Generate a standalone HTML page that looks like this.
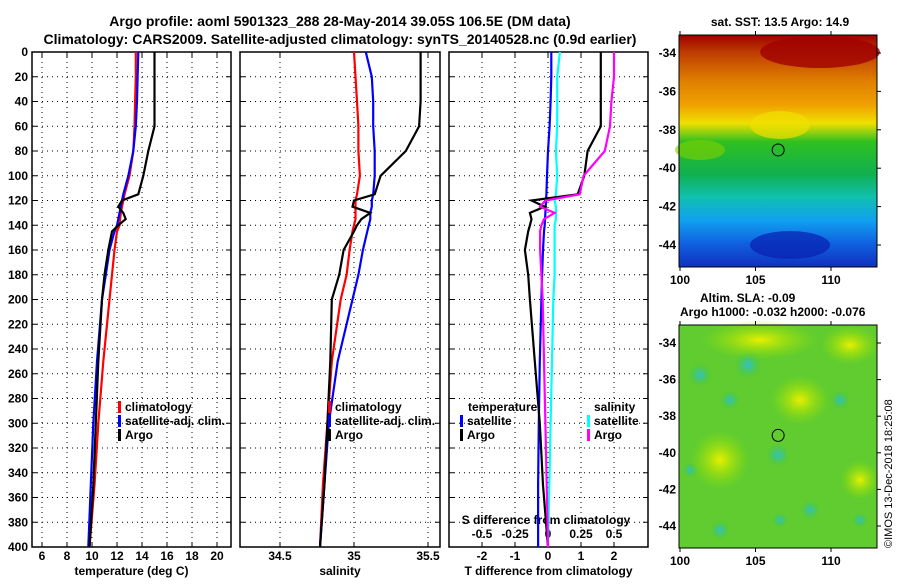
<!DOCTYPE html>
<html><head><meta charset="utf-8"><style>
body{margin:0;background:#fff;width:900px;height:580px;overflow:hidden;font-family:"Liberation Sans",sans-serif}
svg text{font-family:"Liberation Sans",sans-serif;font-weight:bold;font-size:12px;fill:#000}
</style></head><body>
<svg id="chart" width="900" height="580">
<defs>
<linearGradient id="sst" x1="0" y1="0" x2="0" y2="1">
<stop offset="0" stop-color="#a00000"/><stop offset="0.08" stop-color="#c04000"/><stop offset="0.2" stop-color="#e08000"/><stop offset="0.3" stop-color="#f0a000"/><stop offset="0.38" stop-color="#f0e000"/><stop offset="0.46" stop-color="#30c020"/><stop offset="0.6" stop-color="#10b050"/><stop offset="0.7" stop-color="#10c0b0"/><stop offset="0.8" stop-color="#10a0f0"/><stop offset="0.9" stop-color="#1060e0"/><stop offset="1" stop-color="#1030c0"/>
</linearGradient>
<radialGradient id="blob" cx="0.5" cy="0.5" r="0.5"><stop offset="0" stop-color="#30c0d0"/><stop offset="1" stop-color="#40c840" stop-opacity="0"/></radialGradient>
<radialGradient id="yel" cx="0.5" cy="0.5" r="0.5"><stop offset="0" stop-color="#e8f000"/><stop offset="1" stop-color="#90e000" stop-opacity="0"/></radialGradient>
</defs>
<text x="340" y="26" text-anchor="middle" style="font-size:14px">Argo profile: aoml 5901323_288 28-May-2014 39.05S 106.5E (DM data)</text>
<text x="340" y="44" text-anchor="middle" style="font-size:14px">Climatology: CARS2009. Satellite-adjusted climatology: synTS_20140528.nc (0.9d earlier)</text>
<g id="plots"></g>
<g id="maps"></g>
<text transform="translate(892,548) rotate(-90)" style="font-size:11px;font-weight:normal">©IMOS 13-Dec-2018 18:25:08</text>
</svg>
<script>
const depths=[0,20,40,60,80,100,115,120,125,130,135,140,145,160,180,200,250,300,350,400];
const tClim=[13.5,13.5,13.45,13.4,13.3,13.0,12.6,12.5,12.4,12.3,12.25,12.2,12.0,11.8,11.6,11.4,10.9,10.5,10.2,9.8];
const tSat=[13.7,13.65,13.6,13.5,13.3,12.9,12.5,12.4,12.3,12.2,12.1,12.0,11.8,11.4,11.1,10.8,10.4,10.1,9.9,9.7];
const tArgo=[15.0,15.0,15.0,15.0,14.5,14.1,13.7,12.4,12.1,12.5,12.7,12.1,11.6,11.3,11.0,10.8,10.5,10.3,10.1,9.8];
const sClim=[35.0,35.01,35.02,35.03,35.03,35.04,35.02,35.01,35.01,35.01,35.01,35.0,34.99,34.97,34.95,34.91,34.85,34.82,34.79,34.77];
const sSat=[35.08,35.12,35.13,35.13,35.14,35.14,35.13,35.12,35.12,35.11,35.11,35.1,35.09,35.06,35.03,34.99,34.89,34.83,34.8,34.77];
const sArgo=[35.45,35.45,35.45,35.44,35.35,35.18,35.14,35.0,34.99,35.11,35.05,35.02,35.0,34.93,34.9,34.85,34.84,34.82,34.8,34.77];
const dtSat=[0.1,0.1,0.08,0.05,0.0,-0.03,-0.05,-0.06,-0.07,-0.08,-0.09,-0.1,-0.12,-0.15,-0.18,-0.2,-0.25,-0.28,-0.3,-0.3];
const dsSat=[0.09,0.07,0.07,0.07,0.06,0.07,0.06,0.05,0.06,0.06,0.06,0.05,0.05,0.05,0.05,0.04,0.03,0.02,0.01,0.0];
const dtArgo=[1.6,1.6,1.6,1.6,1.2,1.1,0.9,-0.5,-0.1,-0.55,-0.5,-0.55,-0.6,-0.7,-0.6,-0.55,-0.4,-0.25,-0.15,0.0];
const dsArgo=[0.5,0.5,0.48,0.47,0.43,0.27,0.24,-0.02,-0.06,0.05,-0.03,-0.05,-0.06,-0.06,-0.05,-0.04,-0.03,-0.02,-0.01,0.0];
const depthTicks=[0,20,40,60,80,100,120,140,160,180,200,220,240,260,280,300,320,340,360,380,400];
const tTicks=[6,8,10,12,14,16,18,20];
const sTicks=[34.5,35,35.5];
const dtTicks=[-2,-1,0,1,2];
const dsTicks=[-0.5,-0.25,0,0.25,0.5];
const NS='http://www.w3.org/2000/svg';
const g=document.getElementById('plots');
function mk(tag,at,parent){const e=document.createElementNS(NS,tag);for(const k in at)e.setAttribute(k,at[k]);(parent||g).appendChild(e);return e;}
const Y0=52,Y1=547;
const yD=d=>Y0+d*(Y1-Y0)/400;
function panel(x0,x1,sc,ticks,name,xlabel){
  const r=mk('rect',{x:x0,y:Y0,width:x1-x0,height:Y1-Y0,fill:'none',stroke:'#000','stroke-width':1.5});
  
  
  depthTicks.forEach(d=>{if(d>0&&d<400){const l=mk('line',{x1:x0,x2:x1,y1:yD(d),y2:yD(d),stroke:'#000','stroke-dasharray':'1,4'});}
    mk('line',{x1:x0,x2:x0+5,y1:yD(d),y2:yD(d),stroke:'#000'});mk('line',{x1:x1-5,x2:x1,y1:yD(d),y2:yD(d),stroke:'#000'});});
  ticks.forEach(t=>{const x=sc(t);const l=mk('line',{x1:x,x2:x,y1:Y0,y2:Y1,stroke:'#000','stroke-dasharray':'1,4'});
    mk('line',{x1:x,x2:x,y1:Y1-5,y2:Y1,stroke:'#000'});mk('line',{x1:x,x2:x,y1:Y0,y2:Y0+5,stroke:'#000'});});
  if(xlabel){const t=mk('text',{x:(x0+x1)/2,y:575,'text-anchor':'middle'});t.textContent=xlabel;}
}
function line(vals,sc,col,name){
  const p=vals.map((v,i)=>(i?'L':'M')+sc(v).toFixed(1)+','+yD(depths[i]).toFixed(1)).join('');
  const e=mk('path',{d:p,fill:'none',stroke:col,'stroke-width':2.2});
  
  
}
function tickLabels(ticks,sc,y,fmt,name){ticks.forEach(t=>{const e=mk('text',{x:sc(t),y:y,'text-anchor':'middle'});e.textContent=fmt(t);});}
function legend(x,y,items){items.forEach((it,i)=>{mk('rect',{x:x,y:y+i*14-10,width:3,height:12,fill:it[1]});const e=mk('text',{x:x+7,y:y+i*14});e.textContent=it[0];});}
const xT=t=>42+(t-6)*12.5;
panel(32,231,xT,tTicks,'temperature-panel','temperature (deg C)');
depthTicks.forEach(d=>{const e=mk('text',{x:28,y:yD(d)+4,'text-anchor':'end'});e.textContent=d;});
tickLabels(tTicks,xT,560,t=>t,'x-tick-label');
line(tClim,xT,'#f00','temperature-climatology-line');
line(tSat,xT,'#00f','temperature-satellite-line');
line(tArgo,xT,'#000','temperature-argo-line');
legend(118,411,[['climatology','#f00'],['satellite-adj. clim.','#00f'],['Argo','#000']]);
const xS=s=>354+(s-35)*148;
panel(240,440,xS,sTicks,'salinity-panel','salinity');
tickLabels(sTicks,xS,560,t=>t,'x-tick-label');
line(sClim,xS,'#f00','salinity-climatology-line');
line(sSat,xS,'#00f','salinity-satellite-line');
line(sArgo,xS,'#000','salinity-argo-line');
legend(328,411,[['climatology','#f00'],['satellite-adj. clim.','#00f'],['Argo','#000']]);
const xDT=t=>548+t*33, xDS=s=>548+s*132;
panel(449,648,xDT,dtTicks,'difference-panel','T difference from climatology');
tickLabels(dtTicks,xDT,560,t=>t,'t-diff-tick-label');
tickLabels(dsTicks,xDS,538,t=>t,'s-diff-tick-label');
const st=mk('text',{x:546,y:524,'text-anchor':'middle'});st.textContent='S difference from climatology';
line(dtSat,xDT,'#00f','t-diff-satellite-line');
line(dsSat,xDS,'#0ff','s-diff-satellite-line');
line(dtArgo,xDT,'#000','t-diff-argo-line');
line(dsArgo,xDS,'#f0f','s-diff-argo-line');
const th=mk('text',{x:468,y:411});th.textContent='temperature';
const sh=mk('text',{x:594,y:411});sh.textContent='salinity';
legend(460,425,[['satellite','#00f'],['Argo','#000']]);
legend(587,425,[['satellite','#0ff'],['Argo','#f0f']]);
const m=document.getElementById('maps');
const lonTicks=[100,105,110];
const latTicks=[-34,-36,-38,-40,-42,-44];
function map(top,bot,fillFn,name){
  const x0=679,x1=877,lx=l=>680+(l-100)*15.1, ly=a=>top+18+(-34-a)*((bot-top)-40)/10;
  fillFn(x0,top,x1-x0,bot-top);
  const f=mk('rect',{x:x0,y:top,width:x1-x0,height:bot-top,fill:'none',stroke:'#000'},m);
  
  lonTicks.forEach(l=>{const e=mk('text',{x:lx(l),y:bot+17,'text-anchor':'middle'},m);e.textContent=l;mk('line',{x1:lx(l),x2:lx(l),y1:bot,y2:bot+4,stroke:'#000'},m);mk('line',{x1:lx(l),x2:lx(l),y1:top-4,y2:top,stroke:'#000'},m);});
  latTicks.forEach(a=>{const e=mk('text',{x:x0-3,y:ly(a)+4,'text-anchor':'end'},m);e.textContent=a;mk('line',{x1:x1,x2:x1+4,y1:ly(a),y2:ly(a),stroke:'#000'},m);});
  mk('circle',{cx:lx(106.5),cy:ly(-39.05),r:6,fill:'none',stroke:'#000'},m);
}
map(35,267,(x,y,w,h)=>{mk('rect',{x:x,y:y,width:w,height:h,fill:'url(#sst)'},m);
  mk('ellipse',{cx:820,cy:52,rx:60,ry:16,fill:'#a00000',opacity:0.8},m);
  mk('ellipse',{cx:780,cy:125,rx:30,ry:14,fill:'#f0e000',opacity:0.7},m);
  mk('ellipse',{cx:700,cy:150,rx:25,ry:10,fill:'#80d000',opacity:0.6},m);
  mk('ellipse',{cx:790,cy:245,rx:40,ry:14,fill:'#0820b0',opacity:0.7},m);},'sst-map');
map(325,548,(x,y,w,h)=>{mk('rect',{x:x,y:y,width:w,height:h,fill:'#60cc30'},m);
  [[760,340,60,20],[850,345,30,20],[800,400,30,25],[720,460,30,30],[860,480,20,20]].forEach(b=>mk('ellipse',{cx:b[0],cy:b[1],rx:b[2],ry:b[3],fill:'url(#yel)'},m));
  [[748,365,14],[700,375,12],[730,400,10],[778,455,12],[840,400,10],[690,470,8],[810,510,10],[780,520,8],[720,530,10],[860,520,8]].forEach(b=>mk('circle',{cx:b[0],cy:b[1],r:b[2],fill:'url(#blob)'},m));},'sla-map');
const t1=mk('text',{x:780,y:26,'text-anchor':'middle'},m);t1.textContent='sat. SST: 13.5 Argo: 14.9';
const t2=mk('text',{x:700,y:302},m);t2.textContent='Altim. SLA: -0.09';
const t3=mk('text',{x:680,y:316},m);t3.textContent='Argo h1000: -0.032 h2000: -0.076';
</script>
</body></html>
